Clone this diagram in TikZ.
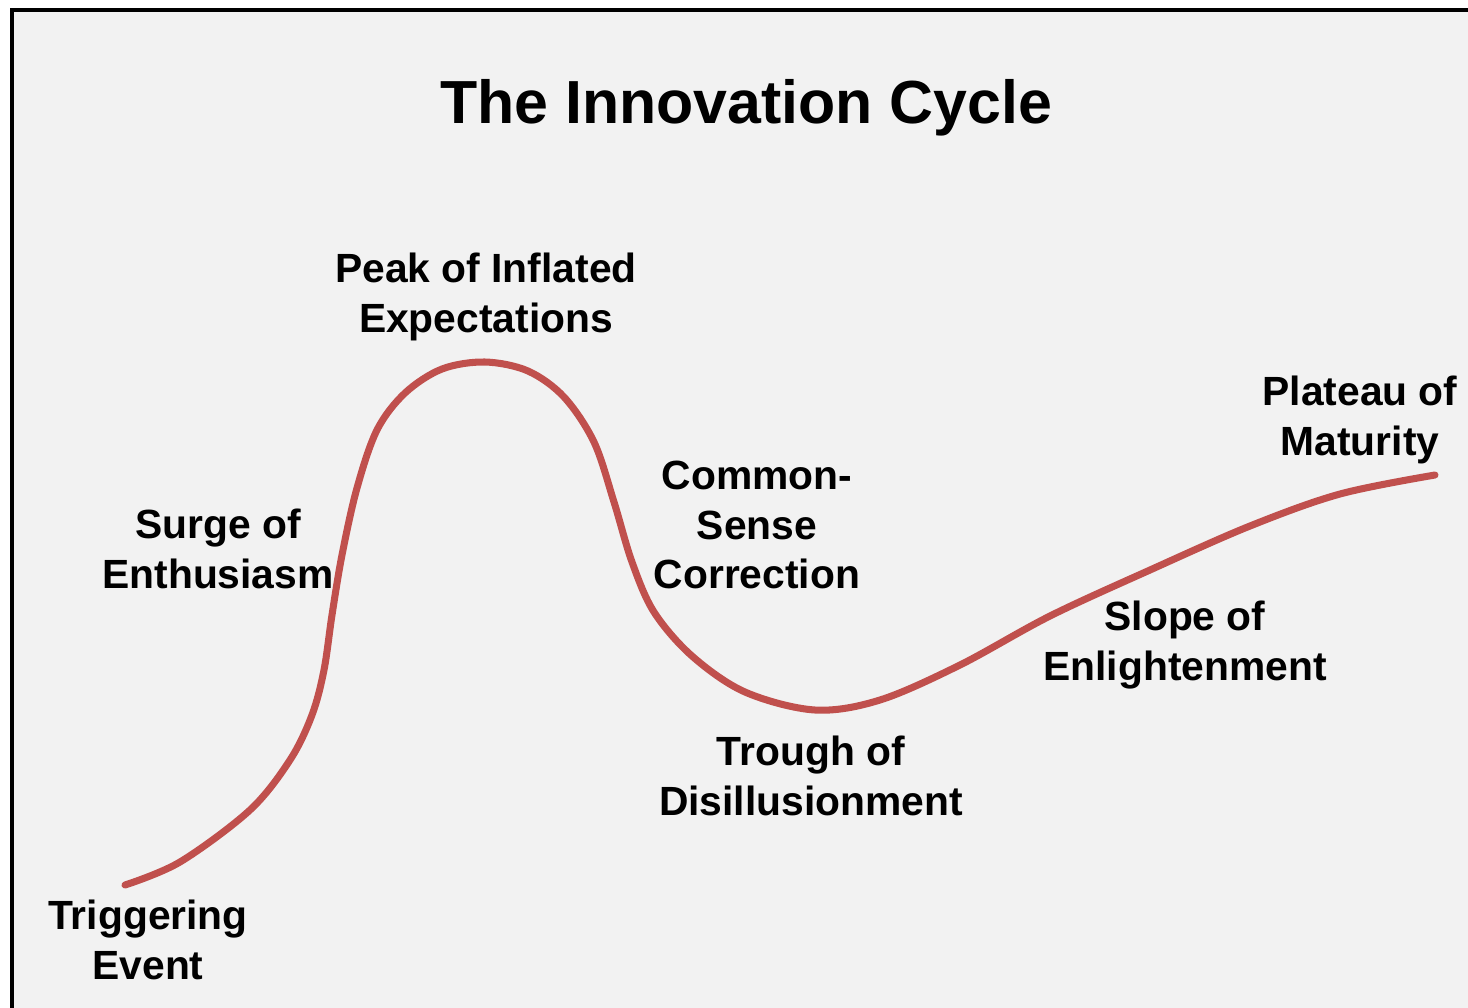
\documentclass[tikz,border=0pt]{standalone}
\usepackage{fontspec}
\setmainfont{Liberation Sans}
\definecolor{curvered}{HTML}{C0504D}
\definecolor{panelgray}{HTML}{F2F2F2}
\tikzset{
  phase/.style={align=center, font=\fontsize{11.6}{14.2}\selectfont\bfseries, inner sep=0pt},
  hype/.style={curvered, line width=2pt, line cap=round}
}
\begin{document}
\begin{tikzpicture}[x=0.01cm,y=-0.01cm]
  \useasboundingbox (0,0) rectangle (1468,1008);
  \fill[white] (0,0) rectangle (1468,1008);
  % panel
  \fill[panelgray] (12,10) rectangle (1468,1008);
  \draw[line width=1.4pt] (12,1008) -- (12,10) -- (1468,10);
  \node[font=\fontsize{17.3}{21}\selectfont\bfseries] (title) at (746,108) {The Innovation Cycle};
  % the curve
  \draw[hype] plot[smooth, tension=0.55] coordinates {
    (125,885) (180,862) (250,810) (290,760) (312,715) (324,670)
    (332,615) (342,555) (357,488) (377,430) (405,393) (442,369)
    (485,362) (528,371) (564,397) (594,442) (614,502) (632,562)
    (654,612) (692,656) (745,692) (815,710) (880,700) (960,665)
    (1050,616) (1150,570) (1250,526) (1340,494) (1435,475)};
  % phase labels
  \node[phase] (trigger) at (148,940) {Triggering\\Event};
  \node[phase] (surge) at (218,549) {Surge of\\Enthusiasm};
  \node[phase] (peak) at (486,297) {Peak of Inflated\\Expectations};
  \node[phase] (correction) at (757,525) {Common-\\Sense\\Correction};
  \node[phase] (trough) at (811,776) {Trough of\\Disillusionment};
  \node[phase] (slope) at (1185,645) {Slope of\\Enlightenment};
  \node[phase] (plateau) at (1360,420) {Plateau of\\Maturity};
\end{tikzpicture}
\end{document}
